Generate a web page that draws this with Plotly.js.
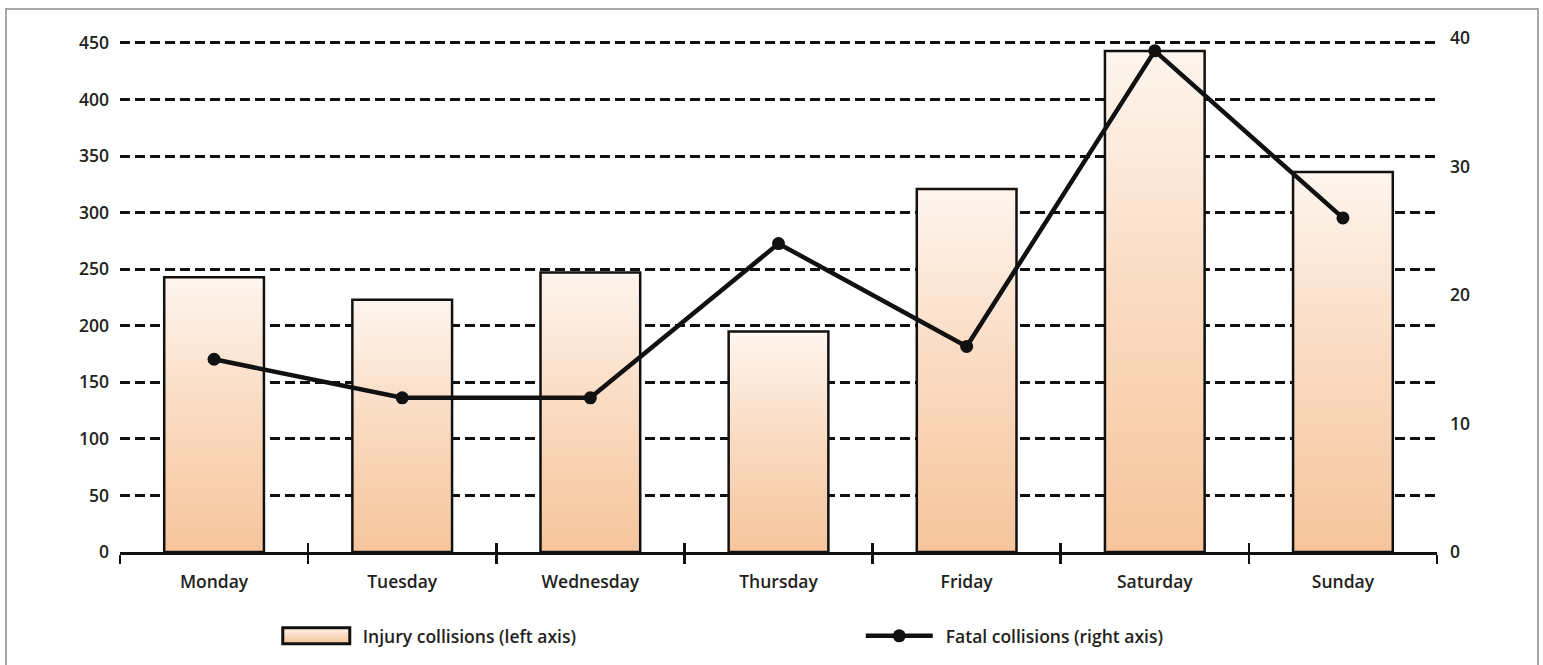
<!DOCTYPE html>
<html>
<head>
<meta charset="utf-8">
<script src="https://cdn.plot.ly/plotly-3.0.1.min.js"></script>
<style>
  html, body { margin: 0; padding: 0; background: #ffffff; overflow: hidden; }
  #chart { width: 1543px; height: 665px; position: absolute; left: 0; top: 0; }
  #frame { position: absolute; left: 5px; top: 8px; width: 1530px; height: 700px;
           border: 2px solid #a8a8a8; pointer-events: none; }
</style>
</head>
<body>
<div id="chart"></div>
<div id="frame"></div>
<script>
// ---- data ----
const days = ["Monday", "Tuesday", "Wednesday", "Thursday", "Friday", "Saturday", "Sunday"];
const injuryCollisions = [243, 223, 247, 195, 321, 443, 336];
const fatalCollisions = [15, 12, 12, 24, 16, 39, 26];
const leftTicks = [0, 50, 100, 150, 200, 250, 300, 350, 400, 450];
const rightTicks = [0, 10, 20, 30, 40];
const seriesNames = ["Injury collisions (left axis)", "Fatal collisions (right axis)"];

const FONT = "'Open Sans', Lato, 'DejaVu Sans', sans-serif";
const TXT = "#231f20";
const FSIZE = 17.5;
const FW = 600;

const traces = [
  {
    type: "bar",
    name: seriesNames[0],
    x: days,
    y: injuryCollisions,
    xaxis: "x",
    yaxis: "y",
    marker: { color: "#f8d4b5", line: { color: "#111111", width: 2.5 } },
    hoverinfo: "x+y"
  },
  {
    type: "scatter",
    mode: "lines+markers",
    name: seriesNames[1],
    x: days,
    y: fatalCollisions,
    xaxis: "x2",
    yaxis: "y2",
    line: { color: "#111111", width: 4.5 },
    marker: { color: "#111111", size: 13 },
    hoverinfo: "x+y"
  }
];

const layout = {
  width: 1543,
  height: 665,
  margin: { l: 120, r: 106, t: 38, b: 112 },
  paper_bgcolor: "rgba(0,0,0,0)",
  plot_bgcolor: "rgba(0,0,0,0)",
  font: { family: FONT, size: FSIZE, color: TXT, weight: FW },
  bargap: 0.47,
  showlegend: true,
  legend: {
    orientation: "h",
    x: 0.116, xanchor: "left",
    y: -0.161, yanchor: "middle",
    itemwidth: 80,
    entrywidth: 488, entrywidthmode: "pixels",
    font: { family: FONT, size: FSIZE, color: TXT, weight: FW },
    bgcolor: "rgba(0,0,0,0)",
    borderwidth: 0,
    traceorder: "normal"
  },
  xaxis: {
    type: "category",
    categoryarray: days,
    range: [-0.5, days.length - 0.5],
    showline: true, linecolor: "#111111", linewidth: 2.5,
    ticks: "outside", ticklen: 9, tickwidth: 2.5, tickcolor: "#111111",
    tickson: "boundaries",
    ticklabelstandoff: 12,
    showgrid: false, zeroline: false,
    tickfont: { family: FONT, size: FSIZE, color: TXT, weight: FW }
  },
  xaxis2: {
    type: "category",
    categoryarray: days,
    overlaying: "x",
    matches: "x",
    anchor: "y",
    side: "bottom",
    showline: false,
    ticks: "inside", ticklen: 9, tickwidth: 2.5, tickcolor: "#111111",
    tickson: "boundaries",
    showticklabels: false,
    showgrid: false, zeroline: false
  },
  yaxis: {
    range: [0, 454.4],
    tickvals: leftTicks,
    ticktext: leftTicks.map(String),
    showline: false, ticks: "", ticklabelstandoff: 10,
    showgrid: true, gridcolor: "#111111", gridwidth: 3, griddash: "10px,5px",
    zeroline: false,
    tickfont: { family: FONT, size: FSIZE, color: TXT, weight: FW }
  },
  yaxis2: {
    range: [0, 40],
    tickvals: rightTicks,
    ticktext: rightTicks.map(String),
    overlaying: "y",
    anchor: "x2",
    side: "right",
    showline: false, ticks: "", ticklabelstandoff: 12,
    showgrid: false, zeroline: false,
    tickfont: { family: FONT, size: FSIZE, color: TXT, weight: FW }
  }
};

Plotly.newPlot("chart", traces, layout, { displayModeBar: false, staticPlot: true }).then(function (gd) {
  const svgNS = "http://www.w3.org/2000/svg";
  const svg = gd.querySelector("svg.main-svg");
  let defs = svg.querySelector("defs");
  if (!defs) { defs = document.createElementNS(svgNS, "defs"); svg.insertBefore(defs, svg.firstChild); }
  const grad = document.createElementNS(svgNS, "linearGradient");
  grad.setAttribute("id", "barGrad");
  grad.setAttribute("x1", "0"); grad.setAttribute("y1", "0");
  grad.setAttribute("x2", "0"); grad.setAttribute("y2", "1");
  [["0", "#fef5ee"], ["0.45", "#fadcc4"], ["1", "#f6c59c"]].forEach(function (s) {
    const st = document.createElementNS(svgNS, "stop");
    st.setAttribute("offset", s[0]);
    st.setAttribute("stop-color", s[1]);
    grad.appendChild(st);
  });
  defs.appendChild(grad);
  gd.querySelectorAll(".barlayer .point path").forEach(function (p) {
    p.style.fill = "url(#barGrad)";
  });

  // widen legend symbols (long swatch / long line) placed just left of the text
  const items = gd.querySelectorAll(".legend g.traces");
  items.forEach(function (item, i) {
    const txt = item.querySelector("text.legendtext");
    const tx = txt ? parseFloat(txt.getAttribute("x")) : 90;
    const right = tx - 13, left = right - 67;
    if (i === 0) {
      item.querySelectorAll(".legendpoints path").forEach(function (p) {
        p.setAttribute("d", "M" + left + ",-8H" + right + "V8H" + left + "Z");
        p.removeAttribute("transform");
        p.style.fill = "url(#barGrad)";
        p.style.stroke = "#111111";
        p.style.strokeWidth = "3px";
      });
    } else {
      item.querySelectorAll(".legendlines path").forEach(function (p) {
        p.setAttribute("d", "M" + left + ",0H" + right);
        p.removeAttribute("transform");
      });
      item.querySelectorAll(".legendpoints path").forEach(function (p) {
        p.setAttribute("transform", "translate(" + ((left + right) / 2) + ",0)");
      });
    }
  });
});
</script>
</body>
</html>
